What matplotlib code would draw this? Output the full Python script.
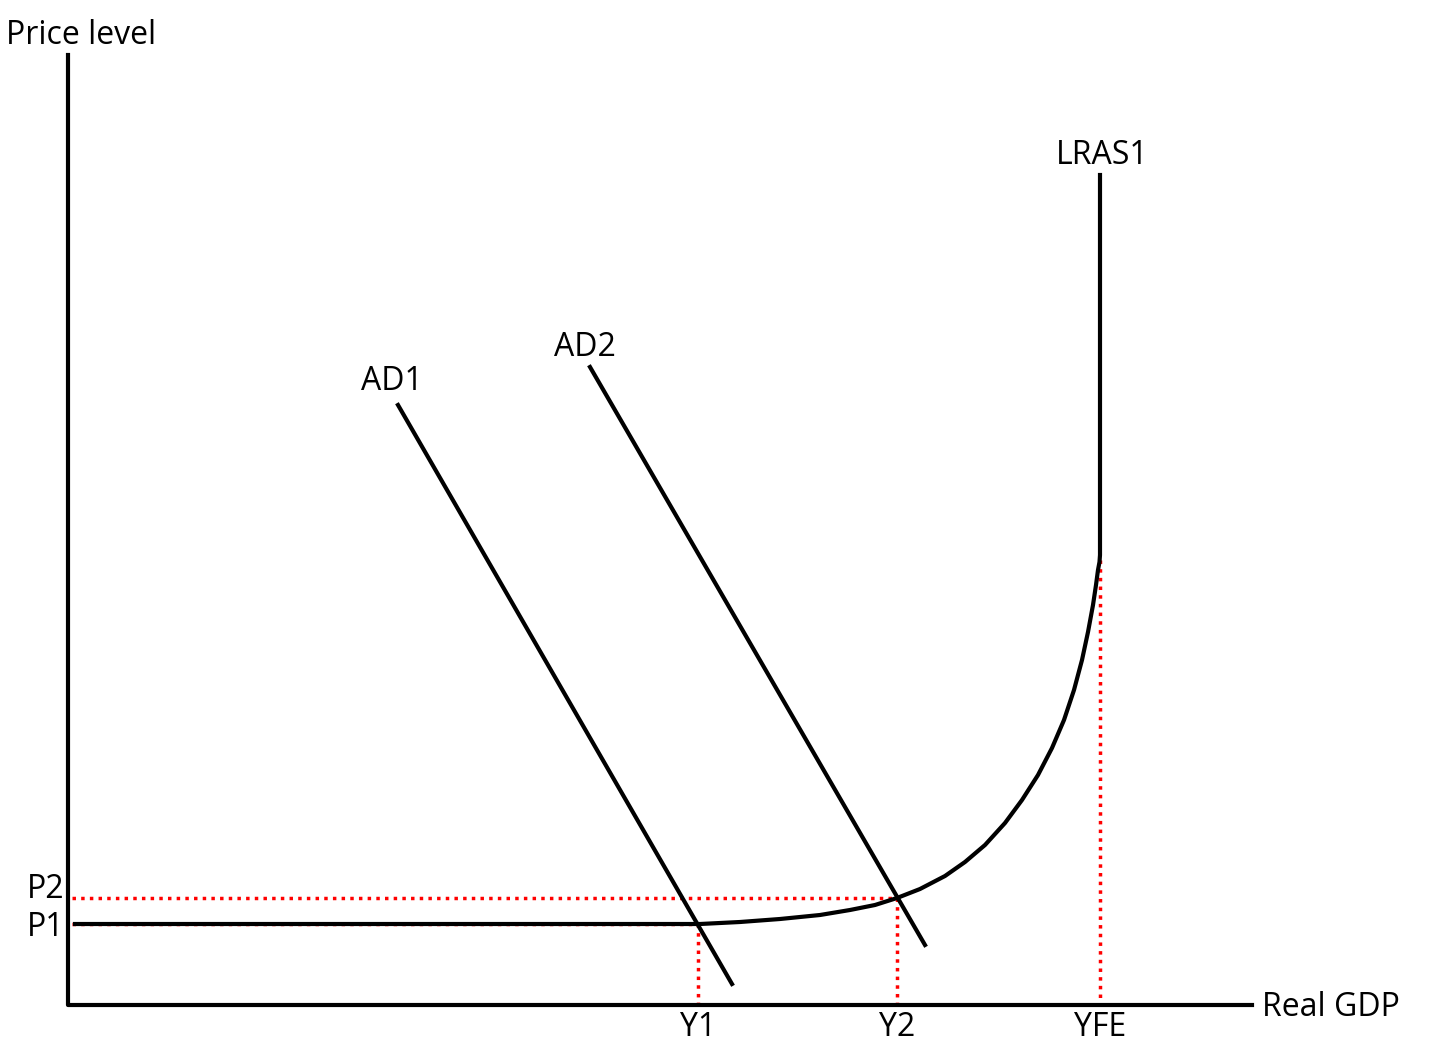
import matplotlib
matplotlib.use("Agg")
import matplotlib.pyplot as plt

# diagram coordinates (pixel-like units, y downward)
ad1_x = [398, 732]; ad1_y = [405, 984]
ad2_x = [590, 925]; ad2_y = [367, 945]
lras_x = [75, 700, 740, 780, 820, 850, 875, 897, 920, 945, 965, 985, 1005, 1022, 1038, 1052,
          1064, 1074, 1082, 1088, 1093, 1096, 1098, 1099.5, 1100, 1100]
lras_y = [924, 924, 922, 919, 915, 910, 905, 898, 889, 876, 862, 845, 823, 800, 775, 748,
          720, 690, 660, 632, 605, 585, 570, 562, 555, 175]
p_levels = [924, 898]
p_ends = [698, 897]
y_pos = [698, 897, 1100]
y_tops = [924, 898, 560]
labels_y = ["Y1", "Y2", "YFE"]

fig = plt.figure(figsize=(14.4, 10.59), dpi=100)
ax = fig.add_axes([0, 0, 1, 1])
ax.set_xlim(0, 1440); ax.set_ylim(1059, 0); ax.axis("off")
fs = 23
fam = ["Open Sans", "DejaVu Sans"]

ax.plot([68, 68, 1252], [55, 1005, 1005], color="black", lw=3)
for lv, xe in zip(p_levels, p_ends):
    ax.plot([72, xe], [lv, lv], color="red", lw=2.5, ls=(0, (1, 1.5)), zorder=1)
for xp, yt in zip(y_pos, y_tops):
    ax.plot([xp, xp], [yt, 1005], color="red", lw=2.5, ls=(0, (1, 1.5)), zorder=1)
ax.plot(lras_x, lras_y, color="black", lw=3, zorder=2)
ax.plot(ad1_x, ad1_y, color="black", lw=3, zorder=2)
ax.plot(ad2_x, ad2_y, color="black", lw=3, zorder=2)

ax.text(6, 35, "Price level", fontsize=fs, family=fam, va="center", ha="left")
ax.text(1102, 155, "LRAS1", fontsize=fs, family=fam, va="center", ha="center")
ax.text(392, 382, "AD1", fontsize=fs, family=fam, va="center", ha="center")
ax.text(585, 348, "AD2", fontsize=fs, family=fam, va="center", ha="center")
ax.text(64, 890, "P2", fontsize=fs, family=fam, va="center", ha="right")
ax.text(64, 927, "P1", fontsize=fs, family=fam, va="center", ha="right")
for xp, lb in zip(y_pos, labels_y):
    ax.text(xp, 1028, lb, fontsize=fs, family=fam, va="center", ha="center")
ax.text(1262, 1008, "Real GDP", fontsize=fs, family=fam, va="center", ha="left")

fig.savefig("out.png", dpi=100)
